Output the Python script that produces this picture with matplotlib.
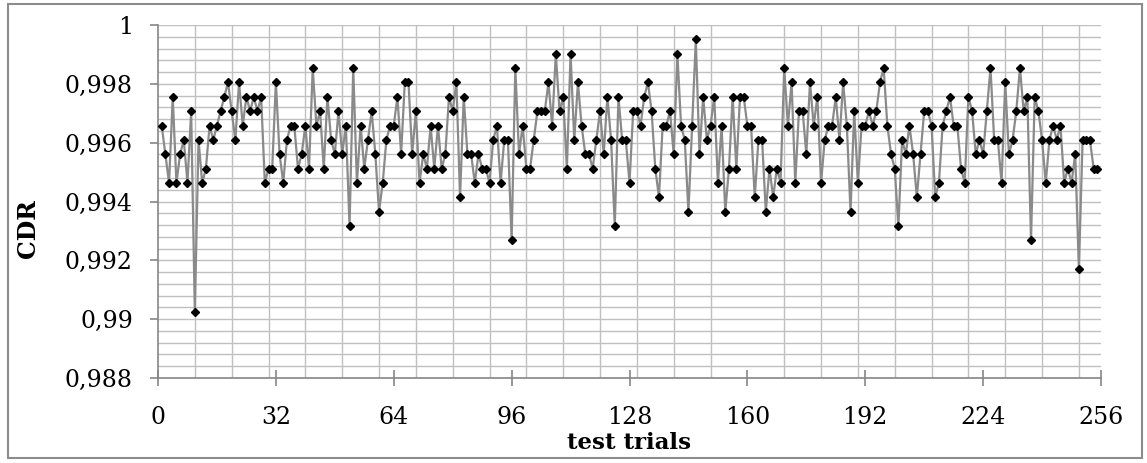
import matplotlib.pyplot as plt
from matplotlib.patches import Rectangle
from matplotlib.ticker import MultipleLocator, FuncFormatter

# CDR per test trial
cdr = [
    0.99658, 0.99561, 0.99463, 0.99756, 0.99463, 0.99561, 0.99609, 0.99463, 0.99707, 0.99023,
    0.99609, 0.99463, 0.99512, 0.99658, 0.99609, 0.99658, 0.99707, 0.99756, 0.99805, 0.99707,
    0.99609, 0.99805, 0.99658, 0.99756, 0.99707, 0.99756, 0.99707, 0.99756, 0.99463, 0.99512,
    0.99512, 0.99805, 0.99561, 0.99463, 0.99609, 0.99658, 0.99658, 0.99512, 0.99561, 0.99658,
    0.99512, 0.99854, 0.99658, 0.99707, 0.99512, 0.99756, 0.99609, 0.99561, 0.99707, 0.99561,
    0.99658, 0.99316, 0.99854, 0.99463, 0.99658, 0.99512, 0.99609, 0.99707, 0.99561, 0.99365,
    0.99463, 0.99609, 0.99658, 0.99658, 0.99756, 0.99561, 0.99805, 0.99805, 0.99561, 0.99707,
    0.99463, 0.99561, 0.99512, 0.99658, 0.99512, 0.99658, 0.99512, 0.99561, 0.99756, 0.99707,
    0.99805, 0.99414, 0.99756, 0.99561, 0.99561, 0.99463, 0.99561, 0.99512, 0.99512, 0.99463,
    0.99609, 0.99658, 0.99463, 0.99609, 0.99609, 0.99268, 0.99854, 0.99561, 0.99658, 0.99512,
    0.99512, 0.99609, 0.99707, 0.99707, 0.99707, 0.99805, 0.99658, 0.99902, 0.99707, 0.99756,
    0.99512, 0.99902, 0.99609, 0.99805, 0.99658, 0.99561, 0.99561, 0.99512, 0.99609, 0.99707,
    0.99561, 0.99756, 0.99609, 0.99316, 0.99756, 0.99609, 0.99609, 0.99463, 0.99707, 0.99707,
    0.99658, 0.99756, 0.99805, 0.99707, 0.99512, 0.99414, 0.99658, 0.99658, 0.99707, 0.99561,
    0.99902, 0.99658, 0.99609, 0.99365, 0.99658, 0.99951, 0.99561, 0.99756, 0.99609, 0.99658,
    0.99756, 0.99463, 0.99658, 0.99365, 0.99512, 0.99756, 0.99512, 0.99756, 0.99756, 0.99658,
    0.99658, 0.99414, 0.99609, 0.99609, 0.99365, 0.99512, 0.99414, 0.99512, 0.99463, 0.99854,
    0.99658, 0.99805, 0.99463, 0.99707, 0.99707, 0.99561, 0.99805, 0.99658, 0.99756, 0.99463,
    0.99609, 0.99658, 0.99658, 0.99756, 0.99609, 0.99805, 0.99658, 0.99365, 0.99707, 0.99463,
    0.99658, 0.99658, 0.99707, 0.99658, 0.99707, 0.99805, 0.99854, 0.99658, 0.99561, 0.99512,
    0.99316, 0.99609, 0.99561, 0.99658, 0.99561, 0.99414, 0.99561, 0.99707, 0.99707, 0.99658,
    0.99414, 0.99463, 0.99658, 0.99707, 0.99756, 0.99658, 0.99658, 0.99512, 0.99463, 0.99756,
    0.99707, 0.99561, 0.99609, 0.99561, 0.99707, 0.99854, 0.99609, 0.99609, 0.99463, 0.99805,
    0.99561, 0.99609, 0.99707, 0.99854, 0.99707, 0.99756, 0.99268, 0.99756, 0.99707, 0.99609,
    0.99463, 0.99609, 0.99658, 0.99609, 0.99658, 0.99463, 0.99512, 0.99463, 0.99561, 0.99170,
    0.99609, 0.99609, 0.99609, 0.99512, 0.99512,
]
trials = list(range(1, len(cdr) + 1))

plt.rcParams['font.family'] = 'DejaVu Serif'

fig = plt.figure(figsize=(11.47, 4.63), dpi=100)
ax = fig.add_axes([158 / 1147, 1 - 378 / 463, (1101 - 158) / 1147, (378 - 25) / 463])

ax.plot(trials, cdr, color='#8a8a8a', lw=1.6, marker='D', markersize=4.5,
        markerfacecolor='black', markeredgecolor='black', zorder=3)

ax.set_xlim(0, 256)
ax.set_ylim(0.988, 1.0)
ax.xaxis.set_major_locator(MultipleLocator(32))
ax.xaxis.set_minor_locator(MultipleLocator(10))
ax.yaxis.set_major_locator(MultipleLocator(0.002))
ax.yaxis.set_minor_locator(MultipleLocator(0.0004))
ax.yaxis.set_major_formatter(FuncFormatter(
    lambda v, p: f"{v:.3f}".rstrip('0').rstrip('.').replace('.', ',')))

grid_col = '#c0c0c0'
ax.grid(which='minor', axis='x', color=grid_col, lw=1.0)
ax.grid(which='both', axis='y', color=grid_col, lw=1.0)
ax.set_axisbelow(True)

for s in ['top', 'right']:
    ax.spines[s].set_visible(False)
for s in ['left', 'bottom']:
    ax.spines[s].set_color('#868686')
    ax.spines[s].set_linewidth(1.2)

ax.tick_params(axis='x', which='major', direction='inout', length=11, width=1.2,
               color='#868686', labelsize=17, pad=15)
ax.tick_params(axis='y', which='major', direction='out', length=6, width=1.2,
               color='#868686', labelsize=17, pad=12)
ax.tick_params(which='minor', length=0)

fig.text(629.5 / 1147, 1 - 443 / 463, 'test trials', ha='center', va='center',
         fontsize=16.5, fontweight='bold')
fig.text(28 / 1147, 1 - 229 / 463, 'CDR', ha='center', va='center', rotation=90,
         fontsize=17, fontweight='bold')

# outer chart frame
fig.add_artist(Rectangle((8 / 1147, 1 - 458 / 463), (1142 - 8) / 1147, (458 - 4) / 463,
                         transform=fig.transFigure, fill=False,
                         edgecolor='#8c8c8c', lw=1.5))

fig.savefig('out.png', dpi=100)
